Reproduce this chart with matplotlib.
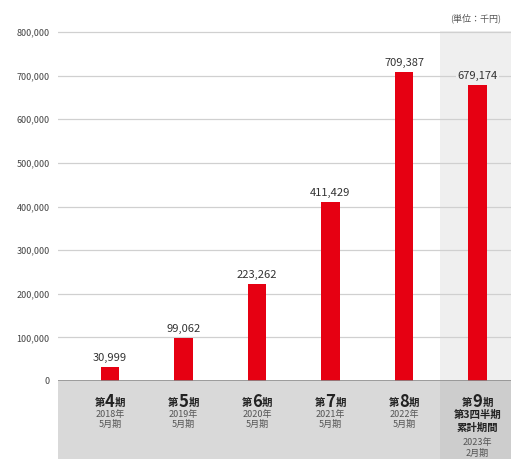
import matplotlib.pyplot as plt
import matplotlib.transforms as mtransforms
from matplotlib.patches import Rectangle

plt.rcParams['font.family'] = ['Noto Sans CJK JP', 'DejaVu Sans']

periods = ['4', '5', '6', '7', '8', '9']
sales = [30999, 99062, 223262, 411429, 709387, 679174]
sub_labels = [['2018年', '5月期'], ['2019年', '5月期'], ['2020年', '5月期'],
              ['2021年', '5月期'], ['2022年', '5月期'],
              ['第3四半期', '累計期間', '2023年', '2月期']]
yticks = [0, 100000, 200000, 300000, 400000, 500000, 600000, 700000, 800000]

red = '#e60012'
band = '#d9d9d9'
band_dark = '#cdcdcd'
hl = '#efefef'

fig = plt.figure(figsize=(5.11, 4.59), dpi=100)
W, H = 511, 459
ax = fig.add_axes([58 / W, 78 / H, 453 / W, 381 / H])
x = list(range(len(sales)))
ax.set_xlim(-0.707, 5.456)
ax.set_ylim(0, 800000 * 381 / 349)

# highlighted last column (stops just above the top gridline)
ax.add_patch(Rectangle((4.49, 0), 0.966, 803000, fc=hl, ec='none', zorder=0))

for v in yticks[1:]:
    ax.axhline(v, color='#d0d0d0', lw=0.9, zorder=1)
ax.axhline(0, color='#8a8a8a', lw=1.2, zorder=3)

ax.bar(x, sales, width=0.25, color=red, zorder=2)

for i, v in enumerate(sales):
    bg = hl if i == 5 else 'white'
    ax.annotate(f'{v:,}', (i, v), xytext=(0, 4), textcoords='offset pixels',
                ha='center', va='bottom', fontsize=8, color='#333333',
                bbox=dict(boxstyle='square,pad=0.15', fc=bg, ec='none'), zorder=4)

ax.set_yticks(yticks)
ax.set_yticklabels([f'{v:,}' for v in yticks], fontsize=6.5, color='#444444')
ax.tick_params(axis='y', length=0, pad=6)
ax.tick_params(axis='x', length=0, labelbottom=False)
for s in ax.spines.values():
    s.set_visible(False)

# label band under the axis
tr = mtransforms.blended_transform_factory(ax.transData, ax.transAxes)
bot = -78 / 381
ax.add_patch(Rectangle((-0.707, bot), 5.197, -bot, transform=tr, fc=band, ec='none', clip_on=False, zorder=0))
ax.add_patch(Rectangle((4.49, bot), 0.966, -bot, transform=tr, fc=band_dark, ec='none', clip_on=False, zorder=0))


def ya(ypx):
    return (381 - ypx) / 381


for i, p in enumerate(periods):
    ax.text(i, ya(402), p, transform=tr, ha='center', va='center', fontsize=12,
            fontweight='bold', color='#222222')
    ax.annotate('第', (i, ya(403)), xycoords=tr, xytext=(-5, 0), textcoords='offset pixels',
                ha='right', va='center', fontsize=7.5, fontweight='bold', color='#222222')
    ax.annotate('期', (i, ya(403)), xycoords=tr, xytext=(5, 0), textcoords='offset pixels',
                ha='left', va='center', fontsize=7.5, fontweight='bold', color='#222222')
    if i < 5:
        ys = [414, 424]
        for t, yy in zip(sub_labels[i], ys):
            ax.text(i, ya(yy), t, transform=tr, ha='center', va='center', fontsize=6.5, color='#555555')
    else:
        ys = [415, 428, 442, 453]
        for k, (t, yy) in enumerate(zip(sub_labels[i], ys)):
            bold = k < 2
            ax.text(i, ya(yy), t, transform=tr, ha='center', va='center',
                    fontsize=7.5 if bold else 6.5, fontweight='bold' if bold else 'normal',
                    color='#222222' if bold else '#555555')

fig.text(476 / W, 1 - 18 / H, '(単位：千円)', ha='center', va='center', fontsize=6.5, color='#555555')

fig.savefig('out.png', dpi=100)
